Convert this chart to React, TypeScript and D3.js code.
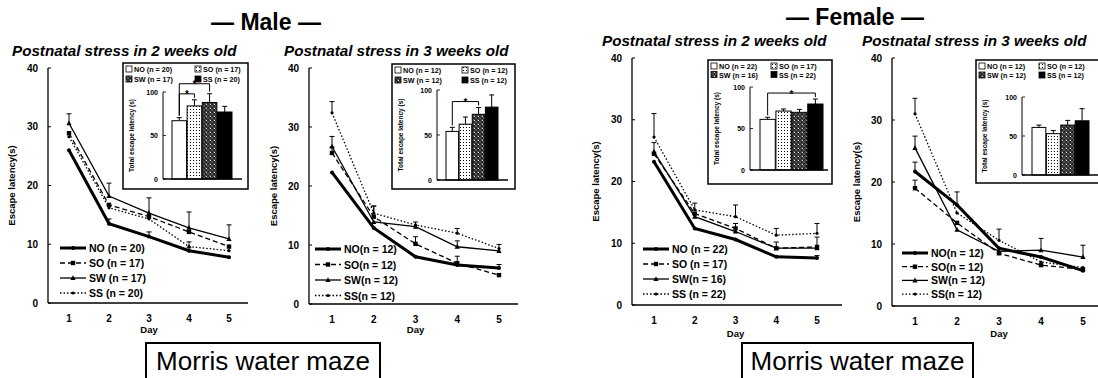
import React from "react";
import * as d3 from "d3";

const FONT = '"Liberation Sans", Arial, sans-serif';

const DAYS = [1, 2, 3, 4, 5];
const GROUPS = ["NO", "SO", "SW", "SS"];
const Y_TICKS = [0, 10, 20, 30, 40];
const INSET_TICKS = [0, 50, 100];

// escape latency (s) per day, rows = NO, SO, SW, SS
const M2_MEANS = [
  [26.0, 13.5, 11.3, 8.9, 7.8],
  [28.9, 16.7, 14.7, 12.1, 9.6],
  [30.6, 18.2, 15.3, 12.8, 10.9],
  [28.3, 16.2, 14.3, 9.6, 8.9],
];
const M2_ERR = [
  [0, 0.8, 0.8, 0.5, 0],
  [0, 0, 0, 0, 0],
  [1.6, 2.2, 2.6, 2.7, 2.4],
  [0, 0, 0, 0.8, 0],
];
const M3_MEANS = [
  [22.3, 12.9, 8.0, 6.6, 6.1],
  [25.6, 14.8, 10.2, 6.9, 4.9],
  [26.7, 13.9, 13.1, 9.7, 9.0],
  [32.4, 15.4, 13.4, 12.0, 9.4],
];
const M3_ERR = [
  [0, 0, 0, 1.5, 0.6],
  [1.0, 1.8, 1.2, 0, 0],
  [1.7, 0, 0.8, 1.0, 0],
  [1.9, 1.2, 0, 0.8, 0.7],
];
const F2_MEANS = [
  [23.2, 12.4, 10.6, 7.8, 7.6],
  [24.5, 14.8, 12.4, 9.2, 9.4],
  [24.8, 14.3, 11.9, 9.2, 9.2],
  [27.2, 15.4, 14.3, 11.3, 11.6],
];
const F2_ERR = [
  [0, 0, 0, 0, 0.4],
  [1.8, 0, 0.8, 0, 1.6],
  [0, 0, 0, 1.0, 0],
  [3.8, 1.1, 1.9, 1.1, 1.6],
];
const F3_MEANS = [
  [21.7, 16.3, 9.3, 7.9, 5.7],
  [19.0, 13.4, 8.5, 6.6, 5.9],
  [25.5, 12.3, 8.8, 9.0, 7.9],
  [31.0, 15.0, 10.6, 7.1, 6.2],
];
const F3_ERR = [
  [1.5, 2.1, 0, 0, 0],
  [1.3, 0, 0, 0, 0],
  [1.9, 0, 0, 1.9, 1.9],
  [2.5, 0, 1.8, 0, 0],
];

// total escape latency (s), NO, SO, SW, SS
const M2_TOTAL = [67, 84, 88, 77];
const M2_TOTAL_ERR = [3.5, 7, 10, 6.5];
const M3_TOTAL = [54, 62, 73, 81];
const M3_TOTAL_ERR = [4.5, 8, 7.5, 13.5];
const F2_TOTAL = [61, 71, 69.5, 79.5];
const F2_TOTAL_ERR = [2.5, 2.5, 3.5, 6];
const F3_TOTAL = [61, 53, 64, 69.5];
const F3_TOTAL_ERR = [3, 4, 6, 15.5];

const M2_N = [20, 17, 17, 20];
const M3_N = [12, 12, 12, 12];
const F2_N = [22, 17, 16, 22];
const F3_N = [12, 12, 12, 12];

const M2_SIG = [[0, 1], [0, 2]];
const M3_SIG = [[0, 2]];
const F2_SIG = [[0, 3]];
const F3_SIG: number[][] = [];

const M2_LEGEND = ["NO (n = 20)", "SO (n = 17)", "SW (n = 17)", "SS (n = 20)"];
const M3_LEGEND = ["NO(n = 12)", "SO(n = 12)", "SW(n = 12)", "SS(n = 12)"];
const F2_LEGEND = ["NO (n = 22)", "SO (n = 17)", "SW(n = 16)", "SS (n = 22)"];
const F3_LEGEND = ["NO(n = 12)", "SO(n = 12)", "SW(n = 12)", "SS(n = 12)"];

const TITLE_2W = "Postnatal stress in 2 weeks old";
const TITLE_3W = "Postnatal stress in 3 weeks old";

// layout in pixels for each panel
const LAYOUTS = [
  { axisX: 48, yTop: 68, yBot: 303, xEnd: 248, day1: 69, day5: 229, titleX: 12, titleY: 56, yTitleX: 15, dayY: 333,
    legX: 60, legY: 248, legStep: 15,
    box: [123, 63, 248, 189], inAxis: 163, in0: 179, in100: 92, bars: [172, 232], inEnd: 242, inLegStep: 10, inCol2: 69 },
  { axisX: 309, yTop: 68, yBot: 304, xEnd: 518, day1: 332, day5: 499, titleX: 284, titleY: 56, yTitleX: 277, dayY: 333,
    legX: 315, legY: 249, legStep: 15.5,
    box: [392, 64, 515, 189], inAxis: 437, in0: 180, in100: 90, bars: [446, 498], inEnd: 508, inLegStep: 10, inCol2: 67 },
  { axisX: 632, yTop: 58, yBot: 305, xEnd: 842, day1: 654, day5: 817, titleX: 602, titleY: 46, yTitleX: 599, dayY: 337,
    legX: 643, legY: 249, legStep: 15,
    box: [708, 60, 832, 184], inAxis: 750, in0: 170, in100: 87, bars: [760, 823], inEnd: 828, inLegStep: 8.5, inCol2: 60 },
  { axisX: 892, yTop: 58, yBot: 306, xEnd: 1110, day1: 915, day5: 1083, titleX: 862, titleY: 46, yTitleX: 860, dayY: 337,
    legX: 902, legY: 253, legStep: 13.7,
    box: [976, 60, 1112, 183], inAxis: 1022, in0: 175, in100: 97, bars: [1032, 1089], inEnd: 1105, inLegStep: 9, inCol2: 60 },
];

const LINE_STYLE: Record<string, { w: number; dash?: string }> = {
  NO: { w: 3 },
  SO: { w: 1.3, dash: "5,3" },
  SW: { w: 1.3 },
  SS: { w: 1.3, dash: "1.5,2" },
};
const BAR_FILL: Record<string, string> = {
  NO: "#fff",
  SO: "url(#dots)",
  SW: "url(#hatch)",
  SS: "#000",
};

function Marker({ g, cx, cy }: { g: string; cx: number; cy: number }) {
  if (g === "SO") return <rect x={cx - 2.2} y={cy - 2.2} width={4.4} height={4.4} fill="#000" />;
  if (g === "SW")
    return <path d={`M${cx},${cy - 2.8}L${cx + 2.6},${cy + 2}L${cx - 2.6},${cy + 2}Z`} fill="#000" />;
  if (g === "SS") return <circle cx={cx} cy={cy} r={1.6} fill="#000" />;
  return <circle cx={cx} cy={cy} r={2} fill="#000" />;
}

function Panel({ L, means, errs, totals, totalErrs, ns, legend, sig, title }: any) {
  const x = d3.scaleLinear().domain([1, 5]).range([L.day1, L.day5]);
  const y = d3.scaleLinear().domain([0, 40]).range([L.yBot, L.yTop]);
  const line = d3
    .line<number>()
    .x((_, i) => x(DAYS[i]))
    .y((d) => y(d));

  const iy = d3.scaleLinear().domain([0, 100]).range([L.in0, L.in100]);
  const ix = d3.scaleBand().domain(GROUPS).range(L.bars).paddingInner(0.04);
  const [bx0, by0, bx1, by1] = L.box;
  const order = [3, 1, 2, 0];

  return (
    <g fontFamily={FONT} fontWeight="bold">
      <text x={L.titleX} y={L.titleY} fontSize={15.2} fontStyle="italic">{title}</text>

      {/* y axis */}
      <line x1={L.axisX} x2={L.axisX} y1={L.yBot} y2={L.yTop} stroke="#000" strokeWidth={1.3} />
      {Y_TICKS.map((t) => (
        <g key={t}>
          <line x1={L.axisX} x2={L.axisX + 3} y1={y(t)} y2={y(t)} stroke="#000" strokeWidth={1} />
          <text x={L.axisX - 10} y={y(t) + 3.5} fontSize={10} textAnchor="end">{t}</text>
        </g>
      ))}
      <text
        transform={`translate(${L.yTitleX},${(L.yTop + L.yBot) / 2}) rotate(-90)`}
        fontSize={9.5}
        textAnchor="middle"
      >
        Escape latency(s)
      </text>

      {/* x axis */}
      <line x1={L.axisX} x2={L.xEnd} y1={L.yBot} y2={L.yBot} stroke="#000" strokeWidth={1.6} />
      {DAYS.map((d) => (
        <text key={d} x={x(d)} y={L.yBot + 19} fontSize={10} textAnchor="middle">{d}</text>
      ))}
      <text x={(L.day1 + L.day5) / 2} y={L.dayY} fontSize={9.5} textAnchor="middle">Day</text>

      {/* inset */}
      <rect x={bx0} y={by0} width={bx1 - bx0} height={by1 - by0} fill="#fff" stroke="#000" strokeWidth={1.5} />
      {GROUPS.map((g, i) => {
        const col = i % 2;
        const row = Math.floor(i / 2);
        const sx = bx0 + 3 + col * L.inCol2;
        const sy = by0 + 3 + row * L.inLegStep;
        return (
          <g key={g}>
            <rect x={sx} y={sy} width={6} height={6} fill={BAR_FILL[g]} stroke="#000" strokeWidth={0.8} />
            <text x={sx + 8} y={sy + 6} fontSize={7.2}>{`${g} (n = ${ns[i]})`}</text>
          </g>
        );
      })}
      <line x1={L.inAxis} x2={L.inAxis} y1={L.in0} y2={L.in100} stroke="#000" strokeWidth={1} />
      {INSET_TICKS.map((t) => (
        <g key={t}>
          <line x1={L.inAxis} x2={L.inAxis + 3} y1={iy(t)} y2={iy(t)} stroke="#000" strokeWidth={0.8} />
          <text x={L.inAxis - 5} y={iy(t) + 2.5} fontSize={7} textAnchor="end">{t}</text>
        </g>
      ))}
      <text
        transform={`translate(${bx0 + 11},${(L.in0 + L.in100) / 2}) rotate(-90)`}
        fontSize={6.5}
        textAnchor="middle"
      >
        Total escape latency (s)
      </text>
      {GROUPS.map((g, i) => {
        const bx = ix(g)!;
        const bw = ix.bandwidth();
        const cx = bx + bw / 2;
        return (
          <g key={g}>
            <line x1={cx} x2={cx} y1={iy(totals[i])} y2={iy(totals[i] + totalErrs[i])} stroke="#000" strokeWidth={1} />
            <line x1={cx - 2.5} x2={cx + 2.5} y1={iy(totals[i] + totalErrs[i])} y2={iy(totals[i] + totalErrs[i])} stroke="#000" strokeWidth={1} />
            <rect x={bx} y={iy(totals[i])} width={bw} height={iy(0) - iy(totals[i])} fill={BAR_FILL[g]} stroke="#000" strokeWidth={1} />
          </g>
        );
      })}
      <line x1={L.inAxis} x2={L.inEnd} y1={L.in0} y2={L.in0} stroke="#000" strokeWidth={1.3} />
      {sig.map(([a, b]: number[], k: number) => {
        const xa = ix(GROUPS[a])! + ix.bandwidth() / 2;
        const xb = ix(GROUPS[b])! + ix.bandwidth() / 2;
        const top = d3.max(d3.range(a, b + 1), (j) => totals[j] + totalErrs[j])!;
        const yb = iy(top) - 6 - k * 4;
        return (
          <g key={k}>
            <path
              d={`M${xa},${iy(totals[a] + totalErrs[a]) - 2}V${yb}H${xb}V${iy(totals[b] + totalErrs[b]) - 2}`}
              fill="none"
              stroke="#000"
              strokeWidth={1}
            />
            <text x={(xa + xb) / 2} y={yb + 4.5} fontSize={10} textAnchor="middle">*</text>
          </g>
        );
      })}

      {/* lines */}
      {order.map((gi) => {
        const g = GROUPS[gi];
        const s = LINE_STYLE[g];
        return (
          <g key={g}>
            <path d={line(means[gi])!} fill="none" stroke="#000" strokeWidth={s.w} strokeDasharray={s.dash} />
            {means[gi].map((v: number, di: number) => {
              const e = errs[gi][di];
              const cx = x(DAYS[di]);
              return (
                <g key={di}>
                  {e > 0 && (
                    <g stroke="#000" strokeWidth={1}>
                      <line x1={cx} x2={cx} y1={y(v)} y2={y(v + e)} />
                      <line x1={cx - 2.5} x2={cx + 2.5} y1={y(v + e)} y2={y(v + e)} />
                    </g>
                  )}
                  <Marker g={g} cx={cx} cy={y(v)} />
                </g>
              );
            })}
          </g>
        );
      })}

      {/* legend */}
      {GROUPS.map((g, i) => {
        const s = LINE_STYLE[g];
        const ly = L.legY + i * L.legStep;
        return (
          <g key={g}>
            <line x1={L.legX} x2={L.legX + 26} y1={ly} y2={ly} stroke="#000" strokeWidth={s.w} strokeDasharray={s.dash} />
            <Marker g={g} cx={L.legX + 13} cy={ly} />
            <text x={L.legX + 29} y={ly + 4} fontSize={10.5}>{legend[i]}</text>
          </g>
        );
      })}
    </g>
  );
}

export default function App() {
  const panels = [
    { means: M2_MEANS, errs: M2_ERR, totals: M2_TOTAL, totalErrs: M2_TOTAL_ERR, ns: M2_N, legend: M2_LEGEND, sig: M2_SIG, title: TITLE_2W },
    { means: M3_MEANS, errs: M3_ERR, totals: M3_TOTAL, totalErrs: M3_TOTAL_ERR, ns: M3_N, legend: M3_LEGEND, sig: M3_SIG, title: TITLE_3W },
    { means: F2_MEANS, errs: F2_ERR, totals: F2_TOTAL, totalErrs: F2_TOTAL_ERR, ns: F2_N, legend: F2_LEGEND, sig: F2_SIG, title: TITLE_2W },
    { means: F3_MEANS, errs: F3_ERR, totals: F3_TOTAL, totalErrs: F3_TOTAL_ERR, ns: F3_N, legend: F3_LEGEND, sig: F3_SIG, title: TITLE_3W },
  ];
  return (
    <svg
      width={1098}
      height={378}
      style={{ position: "absolute", left: 0, top: 0, background: "#fff" }}
      fontFamily={FONT}
    >
      <defs>
        <pattern id="dots" width={3} height={3} patternUnits="userSpaceOnUse">
          <rect width={3} height={3} fill="#fff" />
          <rect x={1} y={1} width={1} height={1} fill="#000" />
        </pattern>
        <pattern id="hatch" width={4} height={4} patternUnits="userSpaceOnUse">
          <rect width={4} height={4} fill="#555" />
          <path d="M0,0L4,4M4,0L0,4" stroke="#1a1a1a" strokeWidth={0.8} />
          <rect x={2} y={0} width={1} height={1} fill="#ddd" />
        </pattern>
      </defs>
      <rect width={1098} height={378} fill="#fff" />
      <text x={266} y={30} fontSize={23} fontWeight="bold" textAnchor="middle">— Male —</text>
      <text x={855} y={25} fontSize={23} fontWeight="bold" textAnchor="middle">— Female —</text>
      {panels.map((p, i) => (
        <Panel key={i} L={LAYOUTS[i]} {...p} />
      ))}
      <rect x={146} y={343} width={234} height={36} fill="#fff" stroke="#000" strokeWidth={2} />
      <text x={263} y={370} fontSize={26} textAnchor="middle">Morris water maze</text>
      <rect x={742} y={343} width={231} height={36} fill="#fff" stroke="#000" strokeWidth={2} />
      <text x={857.5} y={370} fontSize={26} textAnchor="middle">Morris water maze</text>
    </svg>
  );
}
